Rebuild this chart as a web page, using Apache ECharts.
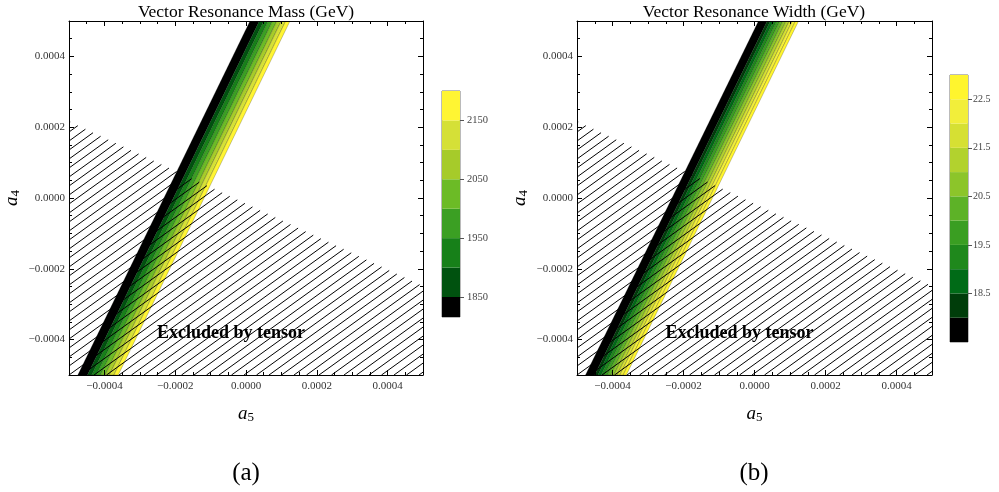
<!DOCTYPE html>
<html><head><meta charset="utf-8">
<script src="https://cdn.jsdelivr.net/npm/echarts@6/dist/echarts.min.js"></script>
<style>html,body{margin:0;padding:0;background:#fff}#c{width:999px;height:492px}</style>
</head><body><div id="c"></div>
<script>
// ---------- data ----------
const axisMin = -0.0005, axisMax = 0.0005, minorStep = 0.00005;
const a5Ticks = [-0.0004, -0.0002, 0, 0.0002, 0.0004];
const a4Ticks = [-0.0004, -0.0002, 0, 0.0002, 0.0004];

// Mass panel: contour levels and where each contour crosses the top (a4=0.0005) and bottom (a4=-0.0005) frame
const massLevels = [1816, 1850, 1900, 1950, 2000, 2050, 2100, 2150, 2200];
const massColors = ['#000000', '#00520f', '#178019', '#3b9f23', '#6cbb26', '#a6cb2a', '#d5e037', '#fff533'];
const massEdgeA5Top = [0.0000113, 0.0000376, 0.0000500, 0.0000624, 0.0000749, 0.0000873, 0.0000997, 0.0001121, 0.0001243];
const massEdgeA5Bottom = [-0.000475, -0.000448, -0.000436, -0.000423, -0.000411, -0.000398, -0.000386, -0.000373, -0.000361];
const massBarTicks = [1850, 1950, 2050, 2150];

// Width panel
const widthLevels = [17.5, 18.0, 18.5, 19.0, 19.5, 20.0, 20.5, 21.0, 21.5, 22.0, 22.5, 23.0];
const widthColors = ['#000000', '#003d0a', '#006b17', '#1f881c', '#3a9e22', '#5db227', '#8cc52a', '#b2d22e', '#d6e033', '#f2ee3a', '#fff52e'];
const widthEdgeA5Top = [0.0000113, 0.0000358, 0.0000446, 0.0000535, 0.0000623, 0.0000712, 0.0000800, 0.0000888, 0.0000977, 0.0001065, 0.0001154, 0.0001242];
const widthEdgeA5Bottom = [-0.000476, -0.000450, -0.000441, -0.000432, -0.000423, -0.000414, -0.000405, -0.000396, -0.000387, -0.000379, -0.000370, -0.000361];
const widthBarTicks = [18.5, 19.5, 20.5, 21.5, 22.5];

// Tensor exclusion boundary (region below is excluded)
const exclA5 = [-0.0005, 0.0005];
const exclA4 = [0.000216, -0.000249];
const exclLabelPos = [-0.0000424, -0.000382];
const exclLabelText = 'Excluded by tensor';

const titles = ['Vector Resonance Mass (GeV)', 'Vector Resonance Width (GeV)'];
const captions = ['(a)', '(b)'];

// ---------- helpers ----------
const SERIF = '"Liberation Serif", "Times New Roman", serif';
const fmt4 = v => Math.abs(v) < 1e-12 ? '0.0000' : (v < 0 ? '\u2212' : '') + Math.abs(v).toFixed(4);
const nameRich = () => ({
  fontFamily: SERIF, color: '#000',
  rich: {
    i: { fontStyle: 'italic', fontSize: 19, fontFamily: SERIF, color: '#000' },
    s: { fontSize: 13, fontFamily: SERIF, color: '#000', padding: [8, 0, 0, 0] }
  }
});

const grids = [], xAxes = [], yAxes = [], series = [];

function addPanel(gi, rect, levels, colors, edgeTop, edgeBottom) {
  grids.push(Object.assign({ show: false, containLabel: false }, rect));
  const base = xAxes.length;
  const common = { gridIndex: gi, type: 'value', min: axisMin, max: axisMax, splitLine: { show: false }, z: 10 };
  const tickStyle = { color: '#000', width: 1 };
  xAxes.push(Object.assign({}, common, {
    position: 'bottom',
    axisLine: { show: true, onZero: false, lineStyle: { color: '#000', width: 1 } },
    axisTick: { show: true, inside: true, length: 5, customValues: a5Ticks, lineStyle: tickStyle },
    axisLabel: { show: true, customValues: a5Ticks, formatter: fmt4, margin: 6, fontFamily: SERIF, fontSize: 11, color: '#333' },
    name: '{i|a}{s|5}', nameLocation: 'middle', nameGap: 28, nameTextStyle: nameRich()
  }));
  xAxes.push(Object.assign({}, common, {
    position: 'bottom', interval: minorStep,
    axisLine: { show: false, onZero: false },
    axisTick: { show: true, inside: true, length: 3, lineStyle: tickStyle },
    axisLabel: { show: false }
  }));
  xAxes.push(Object.assign({}, common, {
    position: 'top',
    axisLine: { show: true, onZero: false, lineStyle: { color: '#000', width: 1 } },
    axisTick: { show: true, inside: true, length: 5, customValues: a5Ticks, lineStyle: tickStyle },
    axisLabel: { show: false }
  }));
  xAxes.push(Object.assign({}, common, {
    position: 'top', interval: minorStep,
    axisLine: { show: false, onZero: false },
    axisTick: { show: true, inside: true, length: 3, lineStyle: tickStyle },
    axisLabel: { show: false }
  }));
  yAxes.push(Object.assign({}, common, {
    position: 'left',
    axisLine: { show: true, onZero: false, lineStyle: { color: '#000', width: 1 } },
    axisTick: { show: true, inside: true, length: 5, customValues: a4Ticks, lineStyle: tickStyle },
    axisLabel: { show: true, customValues: a4Ticks, formatter: fmt4, margin: 4, fontFamily: SERIF, fontSize: 11, color: '#333' },
    name: '{i|a}{s|4}', nameLocation: 'middle', nameGap: 47, nameTextStyle: nameRich()
  }));
  yAxes.push(Object.assign({}, common, {
    position: 'left', interval: minorStep,
    axisLine: { show: false, onZero: false },
    axisTick: { show: true, inside: true, length: 3, lineStyle: tickStyle },
    axisLabel: { show: false }
  }));
  yAxes.push(Object.assign({}, common, {
    position: 'right',
    axisLine: { show: true, onZero: false, lineStyle: { color: '#000', width: 1 } },
    axisTick: { show: true, inside: true, length: 5, customValues: a4Ticks, lineStyle: tickStyle },
    axisLabel: { show: false }
  }));
  yAxes.push(Object.assign({}, common, {
    position: 'right', interval: minorStep,
    axisLine: { show: false, onZero: false },
    axisTick: { show: true, inside: true, length: 3, lineStyle: tickStyle },
    axisLabel: { show: false }
  }));

  // contour bands
  const bandData = colors.map((c, i) => [edgeTop[i], edgeTop[i + 1], edgeBottom[i], edgeBottom[i + 1], i]);
  series.push({
    type: 'custom', coordinateSystem: 'cartesian2d', xAxisIndex: base, yAxisIndex: base,
    clip: true, z: 2, silent: true, animation: false,
    data: bandData,
    encode: { x: [0, 1, 2, 3], y: [] },
    renderItem: (params, api) => {
      const i = api.value(4);
      const pts = [
        api.coord([api.value(0), axisMax]),
        api.coord([api.value(1), axisMax]),
        api.coord([api.value(3), axisMin]),
        api.coord([api.value(2), axisMin])
      ];
      return { type: 'polygon', shape: { points: pts },
        style: { fill: colors[i], stroke: 'rgba(0,0,0,0.35)', lineWidth: 0.6 } };
    }
  });

  // hatched exclusion region
  series.push({
    type: 'custom', coordinateSystem: 'cartesian2d', xAxisIndex: base, yAxisIndex: base,
    clip: true, z: 3, silent: true, animation: false,
    data: [[exclA5[0], exclA4[0], exclA5[1], exclA4[1]]],
    renderItem: (params, api) => {
      const cs = params.coordSys;
      const rx = cs.x, ry = cs.y, w = cs.width, h = cs.height;
      const b1 = api.coord([api.value(0), api.value(1)]);
      const b2 = api.coord([api.value(2), api.value(3)]);
      const s = (b2[1] - b1[1]) / (b2[0] - b1[0]);
      const m = 0.72, vs = 9;
      const children = [];
      for (let yc = ry + 3; yc <= ry + h + m * w + vs; yc += vs) {
        let t0 = 0, t1 = w;
        t0 = Math.max(t0, (yc - ry - h) / m);
        t1 = Math.min(t1, (yc - ry) / m);
        t1 = Math.min(t1, (yc - b1[1] - s * (rx - b1[0])) / (m + s));
        if (t1 - t0 > 0.5) {
          children.push({ type: 'line',
            shape: { x1: rx + t0, y1: yc - m * t0, x2: rx + t1, y2: yc - m * t1 },
            style: { stroke: '#000', lineWidth: 1 } });
        }
      }
      return { type: 'group', children };
    }
  });

  // label
  series.push({
    type: 'custom', coordinateSystem: 'cartesian2d', xAxisIndex: base, yAxisIndex: base,
    z: 4, silent: true, animation: false,
    data: [exclLabelPos],
    renderItem: (params, api) => {
      const p = api.coord([api.value(0), api.value(1)]);
      return { type: 'text', x: p[0], y: p[1],
        style: { text: exclLabelText, align: 'center', verticalAlign: 'middle', textAlign: 'center',
          font: 'bold 18px ' + SERIF, fill: '#000' } };
    }
  });
}

function addColorbar(gi, rect, levels, colors, ticks, fmt, margin, fsize) {
  grids.push(Object.assign({ show: true, borderColor: '#777', borderWidth: 1, backgroundColor: 'transparent' }, rect));
  const base = xAxes.length;
  xAxes.push({ gridIndex: gi, type: 'value', min: 0, max: 1, show: false });
  yAxes.push({ gridIndex: gi, type: 'value', min: levels[0], max: levels[levels.length - 1], position: 'right',
    splitLine: { show: false },
    axisLine: { show: false, onZero: false },
    axisTick: { show: true, inside: false, length: 4, customValues: ticks, lineStyle: { color: '#555' } },
    axisLabel: { show: true, customValues: ticks, formatter: fmt, margin: margin, fontFamily: SERIF, fontSize: fsize, color: '#444' } });
  series.push({
    type: 'custom', coordinateSystem: 'cartesian2d', xAxisIndex: base, yAxisIndex: base,
    silent: true, animation: false, z: 1,
    data: colors.map((c, i) => [0, levels[i], 1, levels[i + 1], i]),
    renderItem: (params, api) => {
      const p0 = api.coord([api.value(0), api.value(1)]);
      const p1 = api.coord([api.value(2), api.value(3)]);
      return { type: 'rect', shape: { x: p0[0], y: p1[1], width: p1[0] - p0[0], height: p0[1] - p1[1] },
        style: { fill: colors[api.value(4)] } };
    }
  });
}

addPanel(0, { left: 69, top: 21, width: 354, height: 354 }, massLevels, massColors, massEdgeA5Top, massEdgeA5Bottom);
addPanel(1, { left: 577, top: 21, width: 355, height: 354 }, widthLevels, widthColors, widthEdgeA5Top, widthEdgeA5Bottom);
addColorbar(2, { left: 442, top: 91, width: 18, height: 226 }, massLevels, massColors, massBarTicks, v => String(Math.round(v)), 7, 10.5);
addColorbar(3, { left: 950, top: 75, width: 18, height: 267 }, widthLevels, widthColors, widthBarTicks, v => v.toFixed(1), 5, 10);

const chart = echarts.init(document.getElementById('c'), null, { renderer: 'canvas' });
chart.setOption({
  animation: false,
  backgroundColor: '#fff',
  grid: grids, xAxis: xAxes, yAxis: yAxes, series: series,
  graphic: [
    { type: 'text', x: 246, y: 12, style: { text: titles[0], align: 'center', verticalAlign: 'middle', textAlign: 'center', font: '17.5px ' + SERIF, fill: '#000' } },
    { type: 'text', x: 754, y: 12, style: { text: titles[1], align: 'center', verticalAlign: 'middle', textAlign: 'center', font: '17.5px ' + SERIF, fill: '#000' } },
    { type: 'text', x: 246, y: 473, style: { text: captions[0], align: 'center', verticalAlign: 'middle', textAlign: 'center', font: '25px ' + SERIF, fill: '#000' } },
    { type: 'text', x: 754, y: 473, style: { text: captions[1], align: 'center', verticalAlign: 'middle', textAlign: 'center', font: '25px ' + SERIF, fill: '#000' } }
  ]
});
</script>
</body></html>
